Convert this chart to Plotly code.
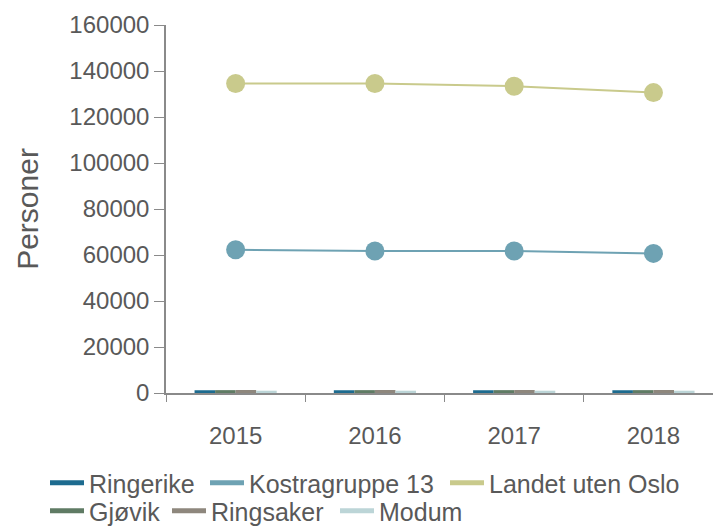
import plotly.graph_objects as go

years = ["2015", "2016", "2017", "2018"]
ringerike = [1200, 1200, 1200, 1200]
gjovik = [1250, 1250, 1250, 1250]
ringsaker = [1300, 1300, 1300, 1300]
modum = [1000, 1000, 1000, 1000]
kostragruppe13 = [62300, 61700, 61700, 60700]
landet_uten_oslo = [134600, 134600, 133400, 130600]

y_ticks = [0, 20000, 40000, 60000, 80000, 100000, 120000, 140000, 160000]

colors = {
    "Ringerike": "#1d6b8f",
    "Kostragruppe 13": "#6ea2b3",
    "Landet uten Oslo": "#c9ca8c",
    "Gjøvik": "#5f7b64",
    "Ringsaker": "#8e877d",
    "Modum": "#bcd5d7",
}

font_family = "Liberation Sans, Arial, sans-serif"
text_color = "#595959"
PAGE_OFFSET = 8  # the page body adds an 8px margin around the figure

fig = go.Figure()

for name, vals in [("Ringerike", ringerike), ("Gjøvik", gjovik),
                   ("Ringsaker", ringsaker), ("Modum", modum)]:
    fig.add_trace(go.Bar(x=years, y=vals, name=name, marker_color=colors[name],
                         marker_line_width=0, showlegend=False))

for name, vals in [("Kostragruppe 13", kostragruppe13), ("Landet uten Oslo", landet_uten_oslo)]:
    fig.add_trace(go.Scatter(x=years, y=vals, name=name, mode="lines+markers",
                             line=dict(color=colors[name], width=2),
                             marker=dict(color=colors[name], size=19),
                             showlegend=False))

# legend entries (thick dashes), each in its own legend so the rows flow like the reference
# (name, x of symbol start in px, row)
legend_entries = [
    ("Ringerike", 50, 1), ("Kostragruppe 13", 210, 1), ("Landet uten Oslo", 450, 1),
    ("Gjøvik", 50, 2), ("Ringsaker", 172, 2), ("Modum", 340, 2),
]
legend_layout = {}
for i, (name, px, row) in enumerate(legend_entries):
    key = "legend" if i == 0 else f"legend{i + 1}"
    fig.add_trace(go.Scatter(x=[years[0]], y=[None], name=name, mode="lines",
                             line=dict(color=colors[name], width=5), showlegend=True,
                             legend=key))
    if row == 1:
        ypos, yanchor = 1 - (483 - PAGE_OFFSET) / 526, "middle"
    else:
        ypos, yanchor = 0, "bottom"
    legend_layout[key] = dict(
        orientation="h", xref="container", yref="container",
        x=(px - 5 - PAGE_OFFSET) / 721, xanchor="left",
        y=ypos, yanchor=yanchor,
        font=dict(size=25, color=text_color, family=font_family), itemwidth=34,
        bgcolor="rgba(0,0,0,0)", borderwidth=0,
    )

fig.update_layout(
    width=721, height=526,
    margin=dict(l=158, r=8, t=17, b=141),
    plot_bgcolor="white", paper_bgcolor="white",
    barmode="group", bargap=0.41, bargroupgap=0,
    font=dict(family=font_family, color=text_color, size=24),
    showlegend=True,
    xaxis=dict(type="category", range=[-0.5, 3.485], showline=True, linecolor="#8a8a8a",
               linewidth=1.5, ticks="outside", tickson="boundaries", ticklen=7,
               tickcolor="#8a8a8a", tickfont=dict(size=24), ticklabelstandoff=20,
               showgrid=False, zeroline=False, automargin=False),
    yaxis=dict(range=[0, 160000], tickvals=y_ticks, ticktext=[str(v) for v in y_ticks],
               showline=True, linecolor="#8a8a8a", linewidth=1.5, ticks="outside",
               ticklen=10, tickcolor="#8a8a8a", tickfont=dict(size=24),
               showgrid=False, zeroline=False, automargin=False,
               title=dict(text="Personer", font=dict(size=30), standoff=22)),
    **legend_layout,
)

fig.write_html("out.html")
